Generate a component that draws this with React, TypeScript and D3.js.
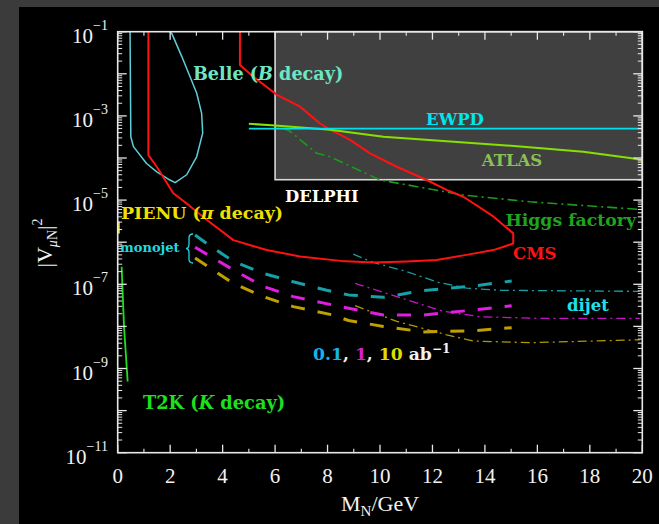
import React from "react";
import * as d3 from "d3";

// Heavy-neutral-lepton sensitivity plane: mass (GeV) vs |V_muN|^2

const xTickValues = [0, 2, 4, 6, 8, 10, 12, 14, 16, 18, 20];
const yDecadeExponents = [-1, -3, -5, -7, -9, -11];

// Existing bounds
const belle: [number, number][] = [
  [0.47, 1e-1], [0.5, 3.2e-4], [0.6, 1.86e-4], [1.1, 7.4e-5], [1.49, 4.7e-5],
  [1.99, 3.0e-5], [2.19, 2.6e-5], [2.63, 4.0e-5], [3.01, 1.07e-4], [3.24, 3.9e-4],
  [3.2, 1.15e-3], [3.01, 3.5e-3], [2.44, 2.6e-2], [2.06, 9.1e-2], [1.99, 1e-1],
];
const cms: [number, number][] = [
  [1.17, 1e-1], [1.17, 1.17e-4], [1.49, 6.2e-5], [2.12, 1.45e-5], [2.63, 8.3e-6],
  [3.39, 3.4e-6], [4.41, 1.12e-6], [5.68, 6.5e-7], [6.95, 4.6e-7], [8.5, 3.6e-7],
  [9.75, 3.3e-7], [11.02, 3.5e-7], [12.16, 3.8e-7], [13.3, 5.0e-7], [14.32, 6.5e-7],
  [15.08, 9.3e-7], [15.08, 1.62e-6], [14.32, 4.1e-6], [13.18, 1.2e-5], [12.54, 1.74e-5],
  [11.78, 3.0e-5], [10.64, 6.2e-5], [9.62, 1.29e-4], [8.86, 2.7e-4], [8.1, 4.7e-4],
  [7.71, 6.6e-4], [6.95, 1.66e-3], [6.06, 3.2e-3], [5.17, 8.5e-3], [4.66, 1.62e-2],
  [4.66, 1e-1],
];
const ewpd: [number, number][] = [[5, 5e-4], [20, 5e-4]];
const atlas: [number, number][] = [
  [5, 6.5e-4], [6, 5.9e-4], [8.1, 4.7e-4], [10.13, 3.2e-4], [15.46, 1.86e-4],
  [17.75, 1.41e-4], [19.53, 1.0e-4], [20, 8.9e-5],
];
const t2k: [number, number][] = [[0.15, 2.6e-7], [0.24, 1.0e-8], [0.38, 4.9e-10]];
const pienu: [number, number][] = [[0.04, 3.1e-6], [0.04, 1.6e-6]];
const delphi = { xMin: 6, xMax: 20, yMin: 3.05e-5, yMax: 1e-1 };

// Projections
const higgsFactory: [number, number][] = [
  [6.31, 5.1e-4], [6.57, 4.3e-4], [7.59, 1.29e-4], [8.1, 1.07e-4], [10.0, 3.0e-5],
  [13.18, 1.32e-5], [15.72, 9.1e-6], [19.91, 6.0e-6],
];
const dijet01: [number, number][] = [
  [8.98, 5.2e-7], [9.75, 3.3e-7], [11.02, 2.0e-7], [12.2, 1.12e-7], [13.3, 8.1e-8],
  [14.6, 7.2e-8], [19.9, 6.8e-8],
];
const dijet1: [number, number][] = [
  [9.05, 1.05e-7], [10.64, 5.1e-8], [12.4, 2.3e-8], [13.81, 1.7e-8], [16.1, 1.55e-8],
  [19.9, 1.55e-8],
];
const dijet10: [number, number][] = [
  [9.05, 3.1e-8], [10.64, 1.32e-8], [12.54, 6.3e-9], [13.56, 4.5e-9], [15.72, 4.1e-9],
  [19.9, 4.8e-9],
];
const monojet01: [number, number][] = [
  [2.95, 1.48e-6], [3.39, 9.3e-7], [4.41, 3.5e-7], [5.55, 1.82e-7], [6.69, 1.15e-7],
  [7.97, 7.2e-8], [8.8, 5.6e-8], [10.13, 4.9e-8], [11.65, 7.1e-8], [13.56, 9.1e-8],
  [15.02, 1.2e-7],
];
const monojet1: [number, number][] = [
  [2.95, 7.6e-7], [4.41, 2.2e-7], [5.55, 8.9e-8], [6.69, 5.1e-8], [8.22, 3.2e-8],
  [8.8, 2.7e-8], [10.13, 1.86e-8], [11.65, 1.86e-8], [13.56, 2.45e-8], [15.02, 3.1e-8],
];
const monojet10: [number, number][] = [
  [2.95, 4.2e-7], [4.41, 1.05e-7], [5.55, 5.1e-8], [6.69, 2.95e-8], [8.22, 1.86e-8],
  [8.8, 1.38e-8], [10.13, 1.0e-8], [11.65, 7.4e-9], [13.56, 7.9e-9], [15.02, 9.3e-9],
];

const W = 659;
const H = 524;
const L = 117.7, R = 642.3, T = 31.7, B = 452.7;

const x = d3.scaleLinear().domain([0, 20]).range([L, R]);
const y = d3.scaleLog().domain([1e-11, 1e-1]).range([B, T]);
const line = d3.line<[number, number]>().x((d) => x(d[0])).y((d) => y(d[1]));

const serif = "'Liberation Serif', 'DejaVu Serif', serif";
const boldSerif = "'DejaVu Serif', 'Liberation Serif', serif";

export default function App() {
  const minorX = d3.range(1, 20, 2);
  const majorY = d3.range(-11, 0).map((e) => Math.pow(10, e));
  const minorY: number[] = [];
  for (let e = -11; e < -1; e++) for (let m = 2; m <= 9; m++) minorY.push(m * Math.pow(10, e));

  const curve = (d: [number, number][], stroke: string, w: number, dash?: string) => (
    <path d={line(d) || ""} fill="none" stroke={stroke} strokeWidth={w} strokeDasharray={dash} strokeLinejoin="round" />
  );

  return (
    <svg width={W} height={H} style={{ position: "absolute", left: 0, top: 0 }} fontFamily={serif}>
      <rect x={0} y={0} width={W} height={H} fill="#3b3b3b" />
      <rect x={19} y={7} width={W - 19} height={H - 7} fill="#000" />

      {/* DELPHI excluded region */}
      <rect x={x(delphi.xMin)} y={y(delphi.yMax)} width={x(delphi.xMax) - x(delphi.xMin)}
        height={y(delphi.yMin) - y(delphi.yMax)} fill="#404040" stroke="#d8d8d8" strokeWidth={1.6} />

      {curve(higgsFactory, "#1b9a1b", 1.6, "10,4,2,4")}
      {curve(dijet01, "#1a9ea2", 1.3, "9,4,2,4")}
      {curve(dijet1, "#c814c8", 1.3, "9,4,2,4")}
      {curve(dijet10, "#b09a00", 1.3, "9,4,2,4")}
      {curve(monojet01, "#16a0a8", 3, "14,13")}
      {curve(monojet1, "#e01ee0", 3, "14,13")}
      {curve(monojet10, "#c0a000", 3, "14,13")}
      {curve(belle, "#5ed0d8", 1.5)}
      {curve(cms, "#ff1212", 2)}
      {curve(atlas, "#88e000", 2)}
      {curve(ewpd, "#00e0ea", 1.8)}
      {curve(t2k, "#1ee01e", 1.8)}
      {curve(pienu, "#f0e000", 2)}

      {/* frame */}
      <rect x={L} y={T} width={R - L} height={B - T} fill="none" stroke="#e8e8e8" strokeWidth={1.6} />

      {/* x ticks */}
      {xTickValues.map((v) => (
        <g key={"xt" + v} stroke="#e8e8e8" strokeWidth={1.3}>
          <line x1={x(v)} x2={x(v)} y1={B} y2={B - 8} />
          <line x1={x(v)} x2={x(v)} y1={T} y2={T + 8} />
        </g>
      ))}
      {minorX.map((v) => (
        <g key={"xm" + v} stroke="#e8e8e8" strokeWidth={1.1}>
          <line x1={x(v)} x2={x(v)} y1={B} y2={B - 4} />
          <line x1={x(v)} x2={x(v)} y1={T} y2={T + 4} />
        </g>
      ))}
      {/* y ticks */}
      {majorY.map((v, i) => (
        <g key={"yt" + i} stroke="#e8e8e8" strokeWidth={1.3}>
          <line x1={L} x2={L + 9} y1={y(v)} y2={y(v)} />
          <line x1={R} x2={R - 9} y1={y(v)} y2={y(v)} />
        </g>
      ))}
      {minorY.map((v, i) => (
        <g key={"ym" + i} stroke="#e8e8e8" strokeWidth={1}>
          <line x1={L} x2={L + 4.5} y1={y(v)} y2={y(v)} />
          <line x1={R} x2={R - 4.5} y1={y(v)} y2={y(v)} />
        </g>
      ))}

      {/* tick labels */}
      {xTickValues.map((v) => (
        <text key={"xl" + v} x={x(v)} y={483} textAnchor="middle" fill="#f2f2f2" fontSize={21}>{v}</text>
      ))}
      {yDecadeExponents.map((e) => (
        <text key={"yl" + e} x={108} y={y(Math.pow(10, e)) + 11} textAnchor="end" fill="#f2f2f2" fontSize={21}>
          10<tspan dy={-13} fontSize={14}>{"\u2212" + Math.abs(e)}</tspan>
        </text>
      ))}

      {/* axis titles */}
      <text x={380} y={511} textAnchor="middle" fill="#f2f2f2" fontSize={22}>
        M<tspan fontSize={15} dy={5}>N</tspan><tspan dy={-5}>/GeV</tspan>
      </text>
      <text transform="translate(52,243) rotate(-90)" textAnchor="middle" fill="#f2f2f2" fontSize={22}>
        |V<tspan fontSize={14} dy={5} fontStyle="italic">μ</tspan><tspan fontSize={14}>N</tspan><tspan dy={-5}>|</tspan><tspan dy={-10} fontSize={14}>2</tspan>
      </text>

      {/* annotations */}
      <g fontWeight="bold" fontFamily={boldSerif}>
        <text x={193} y={80} fill="#6ee6c2" fontSize={17.6}>Belle (<tspan fontStyle="italic">B</tspan> decay)</text>
        <text x={455} y={125} textAnchor="middle" fill="#00e6ee" fontSize={16.5}>EWPD</text>
        <text x={512} y={166} textAnchor="middle" fill="#8cc054" fontSize={16.5}>ATLAS</text>
        <text x={285} y={202} fill="#ffffff" fontSize={16.4}>DELPHI</text>
        <text x={636} y={226} textAnchor="end" fill="#1ea41e" fontSize={17.3}>Higgs factory</text>
        <text x={513} y={259} fill="#ff1212" fontSize={16.5}>CMS</text>
        <text x={121} y={219} fill="#f0e000" fontSize={17.4}>PIENU (<tspan fontStyle="italic">π</tspan> decay)</text>
        <text x={120} y={252} fill="#20d8e2" fontSize={13}>monojet</text>
        <text x={588} y={311} textAnchor="middle" fill="#20e0ea" fontSize={16.5}>dijet</text>
        <text x={313} y={360} fontSize={17.2}>
          <tspan fill="#12b6ea">0.1</tspan><tspan fill="#f2f2f2">, </tspan>
          <tspan fill="#d81ed8">1</tspan><tspan fill="#f2f2f2">, </tspan>
          <tspan fill="#e0dc00">10</tspan><tspan fill="#f2f2f2"> ab</tspan>
          <tspan fill="#f2f2f2" fontSize={12} dy={-7}>−1</tspan>
        </text>
        <text x={143} y={409} fill="#1ee01e" fontSize={17.8}>T2K (<tspan fontStyle="italic">K</tspan> decay)</text>
      </g>
      {/* brace grouping the monojet projections */}
      <path d="M193,234 q-4,0 -4,4 v6 q0,4.5 -3,4.5 q3,0 3,4.5 v6 q0,4 4,4" fill="none" stroke="#20d8e2" strokeWidth={1.3} />
    </svg>
  );
}
